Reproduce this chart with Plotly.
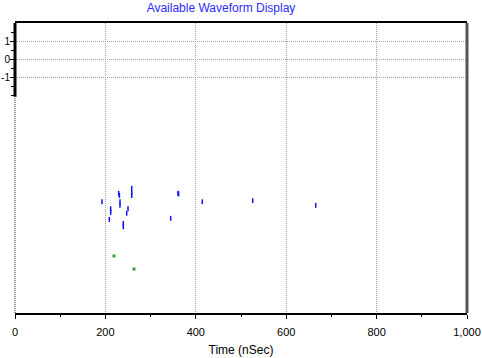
import plotly.graph_objects as go

# ---- data ----
blue_time = [192.5, 211.7, 211.7, 208.6, 229.4, 231.0, 232.3, 232.3, 250.0, 247.1,
             239.6, 239.6, 258.2, 258.2, 258.2, 360.6, 362.0, 344.5, 414.4, 525.9, 665.3]
blue_val = [-7.93, -8.32, -8.52, -8.91, -7.46, -7.58, -7.93, -8.13, -8.32, -8.57,
            -9.13, -9.32, -7.18, -7.41, -7.59, -7.46, -7.50, -8.85, -7.93, -7.87, -8.13]
green_time = [219.0, 263.3]
green_val = [-10.94, -11.67]

x_ticks = [0, 200, 400, 600, 800, 1000]
y_ticks = [1, 0, -1]
y_tick_text = ["1", "0", "-1"]
y_minor = [1.5, 0.5, -0.5, -1.5, -2]
x_range = [0, 1000]
y_range = [-14.11, 2]
labeled_axis_bottom = -2.1

W, H = 482, 358
ML, MR, MT, MB = 15, 15, 23, 45
FONT = "Arial, Liberation Sans, sans-serif"

def ypaper(v):
    return (v - y_range[0]) / (y_range[1] - y_range[0])

fig = go.Figure()
fig.add_trace(go.Scatter(
    x=blue_time, y=blue_val, mode="markers",
    marker=dict(symbol="line-ns", size=3.5, line=dict(color="#1010ff", width=1.5)),
    showlegend=False, hoverinfo="skip"))
fig.add_trace(go.Scatter(
    x=green_time, y=green_val, mode="markers",
    marker=dict(symbol="square", size=3, color="#3a9a3a"),
    showlegend=False, hoverinfo="skip"))

grid = dict(gridcolor="#a0a0a0", griddash="1px,1px", gridwidth=1)

fig.update_layout(
    width=W, height=H,
    margin=dict(l=ML, r=MR, t=MT, b=MB, pad=0),
    paper_bgcolor="white", plot_bgcolor="white",
    font=dict(family=FONT, size=11, color="black"),
    title=dict(text="Available Waveform Display", font=dict(family=FONT, size=12, color="#2b2bff"),
               xref="container", x=221 / W, xanchor="center",
               yref="container", y=1 - 8 / H, yanchor="middle"),
    xaxis=dict(range=x_range, tickvals=x_ticks, tickformat=",", showgrid=True, **grid,
               zeroline=False, showline=True, linecolor="black", linewidth=2, mirror=True,
               ticks="outside", ticklen=4, tickcolor="black", tickwidth=1,
               minor=dict(dtick=100, tick0=0, ticks="outside", ticklen=2, tickcolor="black", showgrid=False),
               tickfont=dict(size=11), ticklabelstandoff=4,
               title=dict(text="Time (nSec)", font=dict(size=12), standoff=8),
               fixedrange=True, automargin=False),
    yaxis=dict(range=y_range, tickvals=y_ticks, ticktext=y_tick_text, showgrid=True, **grid,
               zeroline=False, showline=False,
               ticks="outside", ticklen=4, tickcolor="black", tickwidth=1,
               minor=dict(tickvals=y_minor, ticks="outside", ticklen=3, tickcolor="black", showgrid=False),
               tickfont=dict(size=10), ticklabelstandoff=-2,
               fixedrange=True, automargin=False),
    shapes=[
        dict(type="line", xref="paper", yref="paper", x0=0, x1=0,
             y0=ypaper(labeled_axis_bottom), y1=1, line=dict(color="black", width=3), layer="above"),
        dict(type="line", xref="paper", yref="paper", x0=0, x1=0,
             y0=0, y1=ypaper(labeled_axis_bottom), line=dict(color="#707070", width=1.5, dash="1px,1px"), layer="above"),
        dict(type="line", xref="paper", yref="paper", x0=1, x1=1,
             y0=0, y1=1, line=dict(color="#555555", width=3), layer="above"),
    ],
)

fig.write_html("out.html")
